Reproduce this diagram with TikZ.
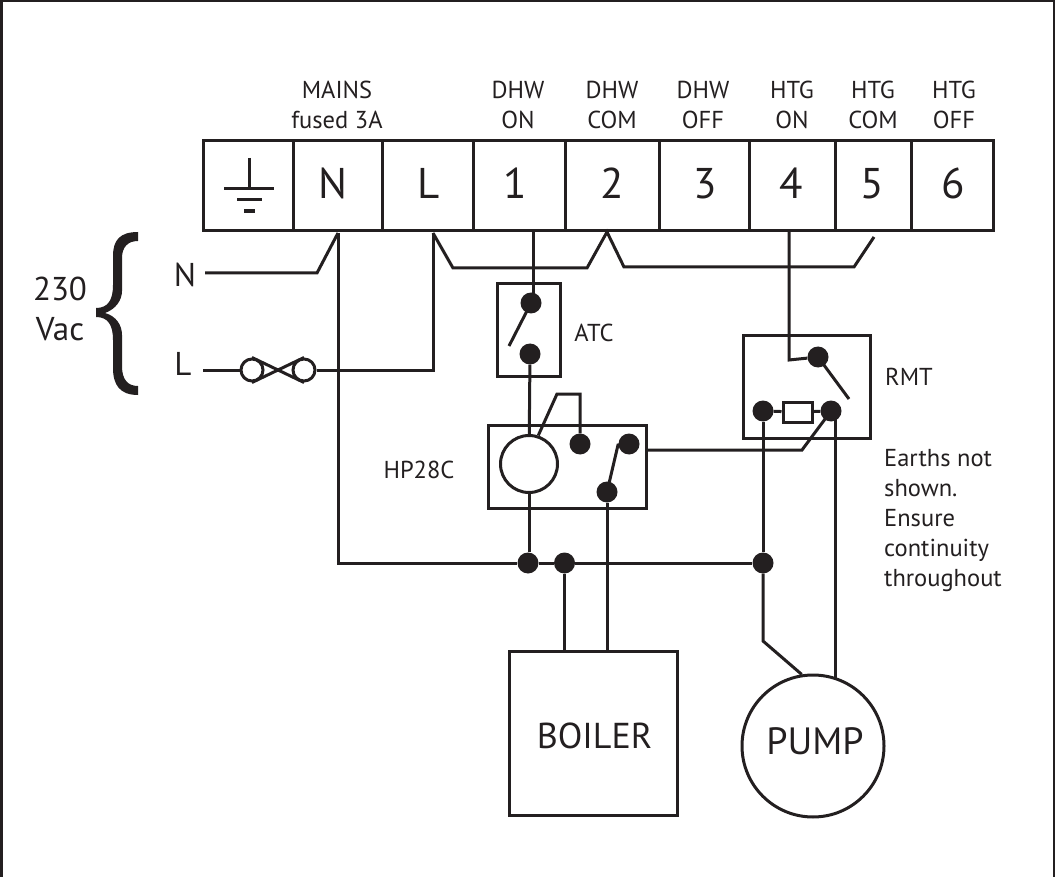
\documentclass[tikz,border=0pt]{standalone}
\usepackage{fontspec}
\setmainfont{PT Sans}
\definecolor{ink}{HTML}{231F20}
\begin{document}
\begin{tikzpicture}
    [
        x=1pt, y=-1pt,
        color=ink,
        wire/.style={line width=3pt, line join=miter},
        box/.style={rectangle, draw, line width=3pt, inner sep=0pt},
        dot/.style={circle, fill=ink, minimum size=21pt, inner sep=0pt},
        coil/.style={circle, draw, line width=3pt, inner sep=0pt},
        small/.style={font=\fontsize{24.5}{30}\selectfont, align=center, inner sep=0pt},
        big/.style={font=\fontsize{43}{48}\selectfont, anchor=base, inner sep=0pt},
        huge/.style={font=\fontsize{33}{40}\selectfont, inner sep=0pt},
    ]
    \useasboundingbox (0,0) rectangle (1055,877);

    % frame, open at the bottom
    \draw [wire] (1,877) -- (1,1) -- (1054,1) -- (1054,877);

    % terminal block
    \node (block) at (598,186) [box, minimum width=790pt, minimum height=90pt] {};
    \foreach \x in {293.5,382.5,473.5,565.5,659,749,835.5,911}
        \draw [wire] (\x,141) -- (\x,231);
    \node (tN) at (333,199) [big] {N};
    \node (tL) at (429,199) [big] {L};
    \node (t1) at (515,199) [big] {1};
    \node (t2) at (612,199) [big] {2};
    \node (t3) at (705,199) [big] {3};
    \node (t4) at (791,199) [big] {4};
    \node (t5) at (872,199) [big] {5};
    \node (t6) at (953,199) [big] {6};

    % earth symbol
    \draw [wire] (249,158) -- (249,189);
    \draw [wire] (224,189) -- (274,189);
    \draw [wire] (237,200) -- (262,200);
    \draw [wire, line width=3.4pt] (244,211) -- (255,211);

    % terminal labels
    \node (lmains) at (337,105) [small] {MAINS\\fused 3A};
    \node (ldhwon) at (518,105) [small] {DHW\\ON};
    \node (ldhwcom) at (612,105) [small] {DHW\\COM};
    \node (ldhwoff) at (703,105) [small] {DHW\\OFF};
    \node (lhtgon) at (792,105) [small] {HTG\\ON};
    \node (lhtgcom) at (873,105) [small] {HTG\\COM};
    \node (lhtgoff) at (954,105) [small] {HTG\\OFF};

    % supply
    \node (l230) at (60,309) [huge, align=center] {230\\Vac};
    \node (lN) at (185,275) [huge] {N};
    \node (lL) at (183,364) [huge] {L};
    \fill (138,232) .. controls (120,232) and (113,240) .. (113,256)
        -- (113,285) .. controls (113,300) and (108,308) .. (96,308)
        -- (96,317) .. controls (108,317) and (113,325) .. (113,340)
        -- (113,368) .. controls (113,385) and (120,395) .. (138,395)
        -- (138,386) .. controls (128,386) and (122,380) .. (122,366)
        -- (122,335) .. controls (122,325) and (116,316) .. (105,313)
        .. controls (116,309) and (122,300) .. (122,291)
        -- (122,258) .. controls (122,247) and (128,241) .. (138,241) -- cycle;

    % fuse
    \node (fuseA) at (252,370) [coil, minimum size=22pt] {};
    \node (fuseB) at (304,370) [coil, minimum size=22pt] {};
    \coordinate (supN) at (205,273);
    \coordinate (supNa) at (317,273);
    \coordinate (supL) at (203,370);
    \coordinate (termN) at (338,233);
    \coordinate (termL) at (433,233);
    \coordinate (cornerL) at (433,370);
    \coordinate (cornerN) at (338,563);
    \draw [wire] (supN) -- (supNa) -- (termN);
    \draw [wire] (supL) -- (fuseA);
    \draw [wire] (fuseA.north) -- (fuseB.south);
    \draw [wire] (fuseA.south) -- (fuseB.north);
    \draw [wire] (fuseB) -- (cornerL) -- (termL);

    % link L - 2 - 5
    \coordinate (linkA) at (453,268);
    \coordinate (linkB) at (587,268);
    \coordinate (linkC) at (607,232);
    \coordinate (linkD) at (624,267);
    \coordinate (linkE) at (854,267);
    \coordinate (linkF) at (874,237);
    \draw [wire] (termL) -- (linkA) -- (linkB) -- (linkC) -- (linkD) -- (linkE) -- (linkF);

    % ATC
    \node (atc) at (528.5,330) [box, minimum width=63pt, minimum height=92pt] {};
    \node (atcA) at (531,303) [dot] {};
    \node (atcB) at (530,354) [dot] {};
    \node (latc) at (594,333) [small] {ATC};
    \coordinate (term1) at (533,231);
    \coordinate (atcArm) at (509,346);
    \draw [wire] (term1) -- (term1 |- atcA);
    \draw [wire] (atcA.center) -- (atcArm);

    % HP28C
    \node (hp) at (567,466.5) [box, minimum width=158pt, minimum height=83pt] {};
    \node (hpcoil) at (529,464) [coil, minimum size=57pt, fill=white] {};
    \node (hpC) at (580,444) [dot] {};
    \node (hpD) at (629,444) [dot] {};
    \node (hpE) at (607,492) [dot] {};
    \node (lhp) at (419,470) [small] {HP28C};
    \coordinate (hpArmA) at (557,394);
    \coordinate (hpArmB) at (580,394);
    \coordinate (hpArmC) at (618,445);
    \draw [wire] (atcB) -- (hpcoil);
    \draw [wire] (hpcoil.72) -- (hpArmA) -- (hpArmB) -- (hpC);
    \draw [wire] (hpE.center) -- (hpArmC) -- (hpD.center);

    % RMT
    \node (rmt) at (806.5,387) [box, minimum width=127pt, minimum height=102pt] {};
    \node (rmtA) at (818,357) [dot] {};
    \node (rmtB) at (763,411) [dot] {};
    \node (rmtC) at (831,411) [dot] {};
    \node (rmtR) at (797.5,412) [box, minimum width=29pt, minimum height=20pt] {};
    \node (lrmt) at (885,377) [small, anchor=west] {RMT};
    \node (learth) at (884,449) [small, anchor=north west, align=left] {Earths not\\shown.\\Ensure\\continuity\\throughout};
    \coordinate (term4) at (789,231);
    \coordinate (rmtIn) at (789,360);
    \coordinate (rmtArm) at (849,399);
    \coordinate (hpOut) at (646,450);
    \coordinate (hpOutA) at (802,450);
    \draw [wire] (term4) -- (rmtIn) -- (rmtA);
    \draw [wire] (rmtA.center) -- (rmtArm);
    \draw [wire] (rmtB) -- (rmtR);
    \draw [wire] (rmtR) -- (rmtC);
    \draw [wire] (hpOut) -- (hpOutA) -- (rmtC.center);

    % neutral rail
    \node (railA) at (528,563) [dot] {};
    \node (railB) at (564.5,563) [dot] {};
    \node (railC) at (763,563) [dot] {};
    \draw [wire] (termN) -- (cornerN) -- (railA);
    \draw [wire] (railA) -- (railB);
    \draw [wire] (railB) -- (railC);
    \draw [wire] (hpcoil) -- (hpcoil |- railA.north);
    \draw [wire] (rmtB) -- (railC);

    % loads
    \node (boiler) at (593,733) [box, minimum width=168pt, minimum height=164pt] {};
    \node (lboiler) at (594.5,736) [font=\fontsize{36}{40}\selectfont, inner sep=0pt] {BOILER};
    \node (pump) at (813,746) [coil, minimum size=142pt] {};
    \node (lpump) at (815,741) [font=\fontsize{38}{44}\selectfont, inner sep=0pt] {PUMP};
    \coordinate (pumpBend) at (763,641);
    \coordinate (pumpIn) at (835,678);
    \draw [wire] (railB) -- (railB |- boiler.north);
    \draw [wire] (hpE) -- (hpE |- boiler.north);
    \draw [wire] (railC) -- (pumpBend) -- (pump.99);
    \draw [wire] (pumpIn |- rmtC) -- (pumpIn);

\end{tikzpicture}
\end{document}
